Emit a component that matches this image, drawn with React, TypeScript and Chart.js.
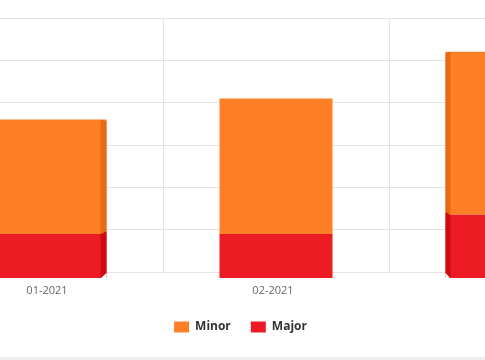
import React, { useEffect, useRef } from "react";
import { Chart, registerables } from "chart.js";

Chart.register(...registerables);

const categories = ["01-2021", "02-2021", "03-2021"];
const minorValues = [27, 32, 38.5];
const majorValues = [9, 9, 13.5];
const seriesNames = ["Minor", "Major"];

const ORANGE = "#FF7F27";
const RED = "#ED1C24";
const ORANGE_SIDE = "#E36C14";
const RED_SIDE = "#CF0A12";

const sideFacePlugin = {
  id: "sideFaces",
  afterDatasetsDraw(chart: any) {
    const ctx = chart.ctx;
    const area = chart.chartArea;
    const mid = (area.left + area.right) / 2;
    chart.data.datasets.forEach((ds: any, di: number) => {
      const meta = chart.getDatasetMeta(di);
      const isMajor = ds.label === seriesNames[1];
      const side = isMajor ? RED_SIDE : ORANGE_SIDE;
      meta.data.forEach((bar: any) => {
        const { x, y, base, width } = bar.getProps(["x", "y", "base", "width"], true);
        const top = Math.min(y, base);
        const bottom = Math.max(y, base);
        const dx = x - mid;
        if (Math.abs(dx) < 60) return;
        const s = dx < 0 ? 6 : 5;
        let inner: number, outer: number;
        if (dx < 0) {
          outer = x + width / 2;
          inner = outer - s;
        } else {
          outer = x - width / 2;
          inner = outer + s;
        }
        ctx.save();
        ctx.fillStyle = side;
        ctx.beginPath();
        ctx.moveTo(inner, top);
        ctx.lineTo(outer, top + (isMajor ? -3 : 1.5));
        ctx.lineTo(outer, bottom - (isMajor ? 5 : 3));
        ctx.lineTo(inner, bottom);
        ctx.closePath();
        ctx.fill();
        if (isMajor) {
          ctx.fillStyle = "#ffffff";
          ctx.beginPath();
          ctx.moveTo(inner, bottom + 0.5);
          ctx.lineTo(outer, bottom - 5);
          ctx.lineTo(outer, bottom + 0.5);
          ctx.closePath();
          ctx.fill();
        }
        ctx.restore();
      });
    });
  },
};

export default function App() {
  const ref = useRef<HTMLCanvasElement | null>(null);

  useEffect(() => {
    if (!ref.current) return;
    const chart = new Chart(ref.current, {
      type: "bar",
      data: {
        labels: categories,
        datasets: [
          {
            label: seriesNames[1],
            data: majorValues,
            backgroundColor: RED,
            borderWidth: 0,
            stack: "s",
            base: -1.4,
            clip: false,
          },
          {
            label: seriesNames[0],
            data: minorValues,
            backgroundColor: ORANGE,
            borderWidth: 0,
            stack: "s",
          },
        ] as any,
      },
      options: {
        responsive: false,
        animation: false,
        devicePixelRatio: 1,
        layout: { padding: { top: 18, left: 0, right: 0, bottom: 0 } },
        datasets: { bar: { categoryPercentage: 1, barPercentage: 0.5 } },
        scales: {
          x: {
            stacked: true,
            grid: { color: "#e4e4e4", drawTicks: false, offset: true },
            border: { display: false },
            ticks: {
              padding: 12,
              labelOffset: -3,
              color: "#666666",
              font: { family: "'Open Sans', sans-serif", size: 11 },
              callback: function (this: any, value: any, index: number) {
                return index < 2 ? categories[index] : "";
              },
            },
            afterFit: (scale: any) => {
              scale.height = 29;
            },
          },
          y: {
            stacked: true,
            min: 0,
            max: 60,
            ticks: { display: false, stepSize: 10 },
            grid: { color: "#e4e4e4", drawTicks: false },
            border: { display: false },
            afterFit: (scale: any) => {
              scale.width = 71;
            },
          },
        },
        plugins: {
          tooltip: { enabled: false },
          legend: {
            position: "bottom",
            reverse: true,
            labels: {
              boxWidth: 15,
              boxHeight: 11,
              padding: 20,
              color: "#333333",
              font: { family: "'Open Sans', sans-serif", size: 12, weight: "bold" },
            },
          },
        },
      },
      plugins: [sideFacePlugin],
    });
    return () => chart.destroy();
  }, []);

  return (
    <div
      style={{
        position: "fixed",
        left: 0,
        top: 0,
        width: 485,
        height: 360,
        overflow: "hidden",
        background: "#ffffff",
      }}
    >
      <canvas
        ref={ref}
        width={749}
        height={343}
        style={{ position: "absolute", left: -134, top: 0, width: 749, height: 343 }}
      />
      <div
        style={{
          position: "absolute",
          left: 0,
          top: 357,
          width: 485,
          height: 3,
          background: "#efefef",
        }}
      />
    </div>
  );
}
